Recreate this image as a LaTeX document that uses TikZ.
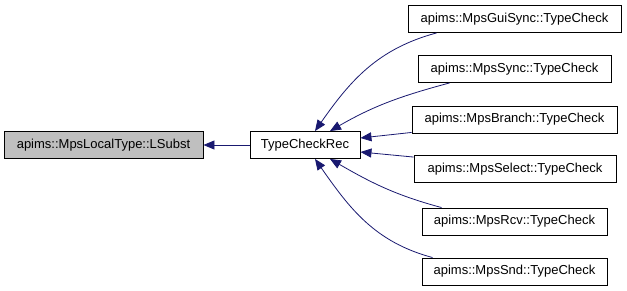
\documentclass[tikz,border=0pt]{standalone}
\usepackage{fontspec}
\setmainfont{Liberation Sans}
\usetikzlibrary{arrows.meta}
\definecolor{navy}{HTML}{191970}
\definecolor{boxgray}{HTML}{BFBFBF}

\begin{document}
\begin{tikzpicture}[x=1pt, y=1pt, >={Triangle[length=11pt, width=9pt]},
  box/.style={draw, line width=0.9pt, minimum height=27pt, inner sep=0pt, font=\fontsize{13}{15}\selectfont},
  dep/.style={->, draw=navy, line width=0.8pt}]
\useasboundingbox (0,0) rectangle (627,-291);
\node (lsubst)[box, fill=boxgray, minimum width=199pt] at (103.5, -145) {apims::MpsLocalType::LSubst};
\node (rec)[box, minimum width=110pt] at (305, -145) {TypeCheckRec};
\node (gui)[box, minimum width=213pt] at (514.5, -19) {apims::MpsGuiSync::TypeCheck};
\node (sync)[box, minimum width=193pt] at (514.5, -69) {apims::MpsSync::TypeCheck};
\node (branch)[box, minimum width=205pt] at (514.5, -119.5) {apims::MpsBranch::TypeCheck};
\node (select)[box, minimum width=202pt] at (515, -169) {apims::MpsSelect::TypeCheck};
\node (rcv)[box, minimum width=185pt] at (514.5, -221.5) {apims::MpsRcv::TypeCheck};
\node (snd)[box, minimum width=185pt] at (514.5, -271.5) {apims::MpsSnd::TypeCheck};
\draw[dep] (rec) -- (lsubst);
\draw[dep] ([xshift=29pt]gui.south west) to[out=195, in=55] ([xshift=10pt]rec.north);
\draw[dep] ([xshift=32pt]sync.south west) to[out=195, in=30] ([xshift=25pt]rec.north);
\draw[dep] ([yshift=1pt]branch.south west) -- ([yshift=7pt]rec.east);
\draw[dep] ([yshift=-2pt]select.north west) -- ([yshift=-7pt]rec.east);
\draw[dep] ([xshift=20pt]rcv.north west) to[out=165, in=-30] ([xshift=25pt]rec.south);
\draw[dep] ([xshift=11pt]snd.north west) to[out=165, in=-55] ([xshift=10pt]rec.south);
\end{tikzpicture}
\end{document}
